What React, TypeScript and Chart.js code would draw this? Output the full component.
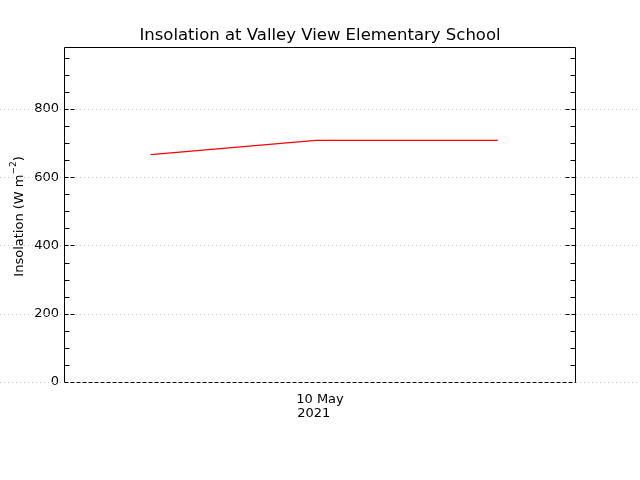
import React, { useEffect, useRef } from "react";
import { Chart, registerables } from "chart.js";

Chart.register(...registerables);

// Hours relative to 10 May 2021 00:00
const timeHours: number[] = [-7.94, -0.2, 8.33];
const insolation: number[] = [666, 708, 708];
const xTickValues: number[] = [0];
const xTickLabel: string[] = ["10 May", "2021   "];
const yMajorTicks: number[] = [0, 200, 400, 600, 800];
const yMinorStep = 50;
const yMin = 0;
const yMax = 982;
const xMin = -12;
const xMax = 12;
const titleText = "Insolation at Valley View Elementary School";
const yTitleMain = "Insolation (W m";
const yTitleSup = "\u22122";
const yTitleEnd = ")";

const FONT = "'DejaVu Sans', sans-serif";

const framePlugin = {
  id: "frameTicks",
  beforeDatasetsDraw(chart: any) {
    const { ctx, chartArea, scales } = chart;
    const y = scales.y;
    ctx.save();
    ctx.lineWidth = 1;
    ctx.strokeStyle = "#c8c8c8";
    ctx.setLineDash([1, 3]);
    for (const v of yMajorTicks) {
      const py = Math.round(y.getPixelForValue(v)) + 0.5;
      ctx.beginPath();
      if (v === 0) {
        ctx.moveTo(0, py);
        ctx.lineTo(chartArea.left, py);
        ctx.moveTo(chartArea.right, py);
        ctx.lineTo(chart.width, py);
      } else {
        ctx.moveTo(0, py);
        ctx.lineTo(chart.width, py);
      }
      ctx.stroke();
    }
    ctx.restore();
  },
  afterDatasetsDraw(chart: any) {
    const { ctx, chartArea, scales } = chart;
    const y = scales.y;
    const L = Math.round(chartArea.left) + 0.5;
    const R = Math.round(chartArea.right) - 0.5;
    const T = Math.round(chartArea.top) + 0.5;
    const B = Math.round(chartArea.bottom) + 0.5;
    ctx.save();
    ctx.strokeStyle = "#000";
    ctx.lineWidth = 1;
    ctx.setLineDash([]);
    ctx.beginPath();
    ctx.moveTo(L, B);
    ctx.lineTo(L, T);
    ctx.lineTo(R, T);
    ctx.lineTo(R, B);
    ctx.stroke();
    ctx.setLineDash([4, 2]);
    ctx.beginPath();
    ctx.moveTo(L, B);
    ctx.lineTo(R, B);
    ctx.stroke();
    for (let v = yMin + yMinorStep; v < yMax; v += yMinorStep) {
      const py = Math.round(y.getPixelForValue(v)) + 0.5;
      const major = yMajorTicks.includes(v);
      const len = major ? 10 : 5;
      ctx.setLineDash(major ? [4, 2] : []);
      ctx.beginPath();
      ctx.moveTo(L, py);
      ctx.lineTo(L + len, py);
      ctx.moveTo(R, py);
      ctx.lineTo(R - len, py);
      ctx.stroke();
    }
    ctx.restore();

    ctx.save();
    ctx.fillStyle = "#000";
    const cx = 20;
    const cy = (chartArea.top + chartArea.bottom) / 2 + 2;
    ctx.translate(cx, cy);
    ctx.rotate(-Math.PI / 2);
    ctx.textBaseline = "middle";
    ctx.textAlign = "left";
    const mainFont = `13px ${FONT}`;
    const supFont = `9px ${FONT}`;
    ctx.font = mainFont;
    const w1 = ctx.measureText(yTitleMain).width;
    const w3 = ctx.measureText(yTitleEnd).width;
    ctx.font = supFont;
    const w2 = ctx.measureText(yTitleSup).width;
    const total = w1 + w2 + w3;
    let x0 = -total / 2;
    ctx.font = mainFont;
    ctx.fillText(yTitleMain, x0, 0);
    x0 += w1;
    ctx.font = supFont;
    ctx.fillText(yTitleSup, x0, -6);
    x0 += w2;
    ctx.font = mainFont;
    ctx.fillText(yTitleEnd, x0, 0);
    ctx.restore();
  },
};

export default function App() {
  const ref = useRef<HTMLCanvasElement | null>(null);
  useEffect(() => {
    document.body.style.margin = "0";
    if (!ref.current) return;
    const chart = new Chart(ref.current, {
      type: "line",
      data: {
        datasets: [
          {
            data: timeHours.map((x, i) => ({ x, y: insolation[i] })),
            borderColor: "#ff0000",
            borderWidth: 1.3,
            pointRadius: 0,
            tension: 0,
            fill: false,
          },
        ],
      },
      options: {
        responsive: false,
        animation: false,
        events: [],
        layout: { padding: { left: 0, right: 0, top: 0, bottom: 0 } },
        plugins: {
          legend: { display: false },
          tooltip: { enabled: false },
          title: {
            display: true,
            text: titleText,
            color: "#000",
            font: { family: FONT, size: 16.5, weight: "normal" },
            padding: { top: 26, bottom: 1 },
          },
        },
        scales: {
          x: {
            type: "linear",
            min: xMin,
            max: xMax,
            grid: { display: false, drawTicks: false },
            border: { display: false },
            afterBuildTicks: (s: any) => {
              s.ticks = xTickValues.map((value) => ({ value }));
            },
            afterFit: (s: any) => {
              s.height = 98;
            },
            ticks: {
              autoSkip: false,
              maxRotation: 0,
              color: "#000",
              padding: 10,
              font: { family: FONT, size: 13, lineHeight: 1.1 },
              callback: () => xTickLabel,
            },
          },
          y: {
            type: "linear",
            min: yMin,
            max: yMax,
            grid: { display: false, drawTicks: false },
            border: { display: false },
            afterFit: (s: any) => {
              s.width = 64;
            },
            afterBuildTicks: (s: any) => {
              s.ticks = yMajorTicks.map((value) => ({ value }));
            },
            ticks: {
              color: "#000",
              padding: 5,
              font: { family: FONT, size: 13 },
            },
          },
          yRight: {
            type: "linear",
            position: "right",
            min: yMin,
            max: yMax,
            grid: { display: false, drawTicks: false },
            border: { display: false },
            ticks: { display: false },
            afterFit: (s: any) => {
              s.width = 64;
            },
          },
        },
      },
      plugins: [framePlugin],
    } as any);
    return () => chart.destroy();
  }, []);
  return (
    <div style={{ position: "absolute", left: 0, top: 0, width: 640, height: 480, background: "#fff" }}>
      <canvas ref={ref} width={640} height={480} style={{ width: 640, height: 480 }} />
    </div>
  );
}
